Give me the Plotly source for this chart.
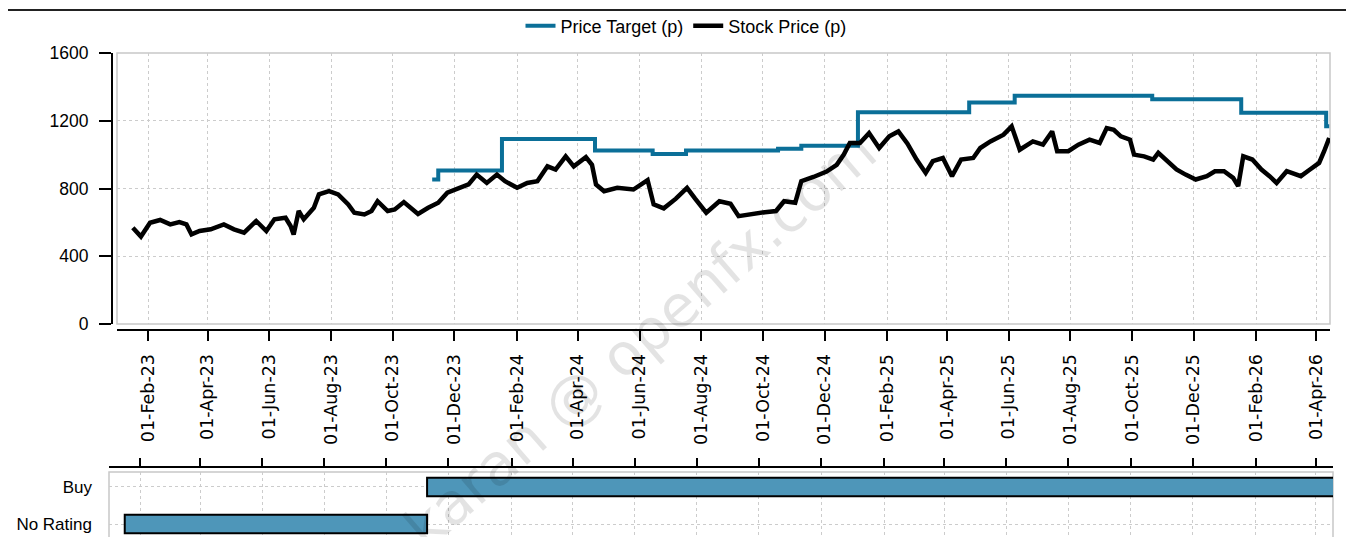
import plotly.graph_objects as go
import pandas as pd

# ---------------- data ----------------
target_dates = ["2023-11-09", "2023-11-15", "2024-01-17", "2024-04-18", "2024-06-14",
                "2024-07-17", "2024-10-16", "2024-11-08", "2025-01-03", "2025-04-23",
                "2025-06-07", "2025-10-21", "2026-01-17", "2026-04-11", "2026-04-14"]
target_values = [853, 906, 1092, 1025, 1004, 1025, 1035, 1052, 1250, 1308,
                 1347, 1327, 1247, 1167, 1167]

price_dates = [
    "2023-01-17", "2023-01-25", "2023-02-03", "2023-02-13", "2023-02-23", "2023-03-04",
    "2023-03-11", "2023-03-16", "2023-03-24", "2023-04-04", "2023-04-17", "2023-04-27",
    "2023-05-07", "2023-05-19", "2023-05-29", "2023-06-06", "2023-06-17", "2023-06-22",
    "2023-06-25", "2023-06-30", "2023-07-05", "2023-07-15", "2023-07-20", "2023-07-30",
    "2023-08-08", "2023-08-18", "2023-08-24", "2023-09-03", "2023-09-10", "2023-09-16",
    "2023-09-26", "2023-10-03", "2023-10-12", "2023-10-26", "2023-11-05", "2023-11-15",
    "2023-11-24", "2023-12-05", "2023-12-15", "2023-12-23",
    "2024-01-02", "2024-01-12", "2024-01-20", "2024-02-01", "2024-02-11", "2024-02-21",
    "2024-03-02", "2024-03-10", "2024-03-20", "2024-03-28", "2024-04-09", "2024-04-15",
    "2024-04-19", "2024-04-27", "2024-05-10", "2024-05-26", "2024-06-09", "2024-06-15",
    "2024-06-25", "2024-07-07", "2024-07-18", "2024-07-26", "2024-08-06", "2024-08-19",
    "2024-08-30", "2024-09-07", "2024-09-20", "2024-10-03", "2024-10-14", "2024-10-22",
    "2024-11-02", "2024-11-08", "2024-11-20", "2024-12-03", "2024-12-13", "2024-12-20",
    "2024-12-26",
    "2025-01-05", "2025-01-14", "2025-01-24", "2025-02-03", "2025-02-12", "2025-02-21",
    "2025-03-02", "2025-03-11", "2025-03-18", "2025-03-28", "2025-04-06", "2025-04-15",
    "2025-04-27", "2025-05-04", "2025-05-14", "2025-05-27", "2025-06-04", "2025-06-12",
    "2025-06-25", "2025-07-05", "2025-07-14", "2025-07-19", "2025-07-30", "2025-08-09",
    "2025-08-20", "2025-08-30", "2025-09-06", "2025-09-13", "2025-09-20", "2025-09-29",
    "2025-10-03", "2025-10-13", "2025-10-22", "2025-10-27", "2025-11-05", "2025-11-14",
    "2025-11-23", "2025-12-03", "2025-12-14", "2025-12-22", "2025-12-31",
    "2026-01-09", "2026-01-14", "2026-01-19", "2026-01-28", "2026-02-06", "2026-02-14",
    "2026-02-21", "2026-03-03", "2026-03-17", "2026-03-26", "2026-04-04", "2026-04-09",
    "2026-04-14"]
price_values = [
    568, 516, 598, 614, 588, 602,
    588, 529, 549, 559, 588, 559,
    539, 608, 549, 618, 627, 578,
    529, 667, 618, 686, 765, 784,
    765, 706, 657, 647, 667, 725,
    667, 676, 720, 650, 686, 716,
    775, 804, 824, 882,
    833, 882, 843, 804, 833, 843,
    931, 912, 990, 931, 985, 940,
    824, 784, 804, 794, 850, 706,
    683, 740, 804, 740, 657, 725,
    710, 637, 650, 660, 667, 725,
    716, 843, 868, 900, 940, 1000,
    1069,
    1069, 1127, 1039, 1108, 1137, 1065,
    971, 892, 961, 980, 873, 971,
    980, 1039, 1078, 1118, 1167, 1029,
    1078, 1059, 1137, 1020, 1020, 1059,
    1088, 1069, 1157, 1147, 1108, 1088,
    1000, 990, 971, 1010, 961, 912,
    882, 853, 873, 902, 902,
    863, 814, 990, 971, 912, 873,
    833, 902, 873, 912, 951, 1020,
    1098]

rating_labels = ["No Rating", "Buy"]
rating_starts = ["2023-01-17", "2023-11-10"]
rating_ends = ["2023-11-10", "2026-04-20"]

y_ticks = [0, 400, 800, 1200, 1600]

# ---------------- figure ----------------
W, H = 1354, 537
OFF = 8  # page offset of the figure


def px(X):
    return (X - OFF) / W


def py(Y):
    return (H - (Y - OFF)) / H


fig = go.Figure()
fig.add_trace(go.Scatter(x=target_dates, y=target_values, mode="lines", line_shape="hv",
                         line=dict(color="#0b6f98", width=4), name="Price Target (p)",
                         xaxis="x", yaxis="y"))
fig.add_trace(go.Scatter(x=price_dates, y=price_values, mode="lines",
                         line=dict(color="#000000", width=4.5), name="Stock Price (p)",
                         xaxis="x", yaxis="y"))

durations = [(pd.Timestamp(e) - pd.Timestamp(s)).total_seconds() * 1000
             for s, e in zip(rating_starts, rating_ends)]
fig.add_trace(go.Bar(y=rating_labels, x=durations, base=rating_starts, orientation="h",
                     width=0.5, marker=dict(color="#4e96b9", line=dict(color="black", width=2)),
                     showlegend=False, xaxis="x2", yaxis="y2"))

grid = dict(showgrid=True, gridcolor="#cccccc", gridwidth=1, griddash="3px,3px",
            automargin=False)
fig.update_layout(
    width=W, height=H, margin=dict(l=0, r=0, t=0, b=0, autoexpand=False),
    paper_bgcolor="white", plot_bgcolor="white",
    showlegend=True,
    legend=dict(orientation="h", x=px(686), xanchor="center", y=py(26), yanchor="middle",
                font=dict(family="Liberation Sans, Arial", size=18, color="black"),
                itemwidth=30, tracegroupgap=0, bgcolor="rgba(0,0,0,0)"),
    xaxis=dict(domain=[px(117), px(1330)], range=["2023-01-01 08:00", "2026-04-14 19:00"],
               type="date", tick0="2023-02-01", dtick="M2", tickformat="%d-%b-%y",
               tickangle=-90, ticks="outside", ticklen=10, tickwidth=2, tickcolor="black",
               showline=True, linecolor="black", linewidth=2,
               anchor="free", position=py(330), ticklabelstandoff=6,
               tickfont=dict(family="DejaVu Sans", size=17.5, color="black"),
               zeroline=False, **grid),
    yaxis=dict(domain=[py(324), py(53)], range=[0, 1600], tickvals=y_ticks,
               ticks="outside", ticklen=12, tickwidth=2, tickcolor="black",
               showline=True, linecolor="black", linewidth=2,
               anchor="free", position=px(112), ticklabelstandoff=7,
               tickfont=dict(family="Liberation Sans, Arial", size=17.5, color="black"),
               zeroline=False, **grid),
    xaxis2=dict(domain=[px(109), px(1333)], range=["2023-01-01 13:00", "2026-04-17 22:00"],
                type="date", tick0="2023-02-01", dtick="M2", side="top",
                ticks="outside", ticklen=8, tickwidth=2, tickcolor="black",
                showticklabels=False, showline=True, linecolor="black", linewidth=2,
                anchor="free", position=py(467), zeroline=False, **grid),
    yaxis2=dict(domain=[py(537 + OFF), py(472)], type="category",
                categoryorder="array", categoryarray=rating_labels,
                range=[-0.351 - 8 / 37, 1.405], ticks="", anchor="x2", ticklabelstandoff=16,
                tickfont=dict(family="Liberation Sans, Arial", size=17, color="black"),
                showline=False, zeroline=False, **grid),
    shapes=[
        dict(type="rect", xref="x domain", yref="y domain", x0=0, x1=1, y0=0, y1=1,
             line=dict(color="#c8c8c8", width=1.5), layer="below"),
        dict(type="rect", xref="x2 domain", yref="y2 domain", x0=0, x1=1, y0=0, y1=1,
             line=dict(color="#c8c8c8", width=1.5), layer="below"),
        dict(type="line", xref="paper", yref="paper", x0=px(8), x1=px(1350),
             y0=py(10), y1=py(10), line=dict(color="#222222", width=2)),
    ],
    annotations=[
        dict(text="karan @ openfx.com", xref="paper", yref="paper",
             x=px(640), y=py(340), showarrow=False, textangle=-41,
             font=dict(family="DejaVu Sans", size=58, color="rgba(0,0,0,0.11)")),
    ],
)

fig.write_html("out.html")
